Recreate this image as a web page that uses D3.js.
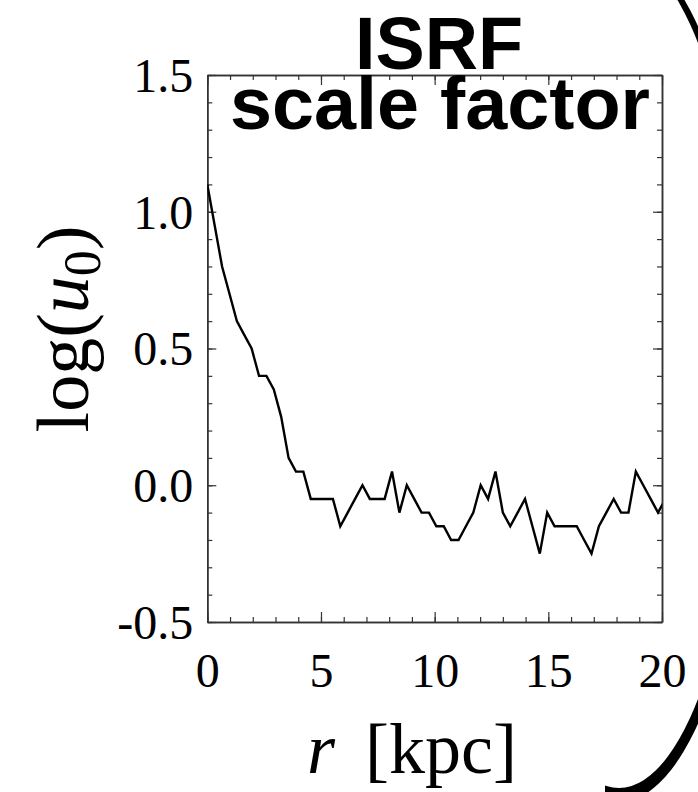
<!DOCTYPE html>
<html>
<head>
  <meta charset="UTF-8" />
  <script src="https://d3js.org/d3.v7.min.js"></script>
  <style>
    body { margin: 0; background: #fff; }
    svg { display: block; }
  </style>
</head>
<body>
  <script>
    // radius [kpc] and log(u0)
    var radius = [0, 0.325, 0.65, 0.975, 1.3, 1.625, 1.95, 2.275, 2.6, 2.925,
      3.25, 3.575, 3.9, 4.225, 4.55, 4.875, 5.2, 5.525, 5.85, 6.175,
      6.5, 6.825, 7.15, 7.475, 7.8, 8.125, 8.45, 8.775, 9.1, 9.425,
      9.75, 10.075, 10.4, 10.725, 11.05, 11.375, 11.7, 12.025, 12.35, 12.675,
      13.0, 13.325, 13.65, 13.975, 14.3, 14.625, 14.95, 15.275, 15.6, 15.925,
      16.25, 16.575, 16.9, 17.225, 17.55, 17.875, 18.2, 18.525, 18.85, 19.175,
      19.5, 19.825, 20.15];
    var logU0 = [1.10, 0.95, 0.80, 0.70, 0.60, 0.55, 0.50, 0.40, 0.40, 0.35,
      0.25, 0.10, 0.05, 0.05, -0.05, -0.05, -0.05, -0.05, -0.15, -0.10,
      -0.05, 0.00, -0.05, -0.05, -0.05, 0.05, -0.10, 0.00, -0.05, -0.10,
      -0.10, -0.15, -0.15, -0.20, -0.20, -0.15, -0.10, 0.00, -0.05, 0.05,
      -0.10, -0.15, -0.10, -0.05, -0.15, -0.25, -0.10, -0.15, -0.15, -0.15,
      -0.15, -0.20, -0.25, -0.15, -0.10, -0.05, -0.10, -0.10, 0.05, 0.00,
      -0.05, -0.10, -0.05];

    var xTicks = [0, 5, 10, 15, 20];
    var xTickLabels = ["0", "5", "10", "15", "20"];
    var yTicks = [-0.5, 0.0, 0.5, 1.0, 1.5];
    var yTickLabels = ["-0.5", "0.0", "0.5", "1.0", "1.5"];
    var xMinor = d3.range(0, 21, 1);
    var yMinor = d3.range(-5, 16, 1).map(function (d) { return d / 10; });

    var width = 698, height = 792;
    var plot = { left: 207.3, right: 662, top: 75, bottom: 622 };

    var svg = d3.select("body").append("svg")
      .attr("width", width)
      .attr("height", height);

    var x = d3.scaleLinear().domain([0, 20]).range([plot.left, plot.right]);
    var y = d3.scaleLinear().domain([-0.5, 1.5]).range([plot.bottom, plot.top]);

    var defs = svg.append("defs");
    defs.append("clipPath").attr("id", "plotclip")
      .append("rect")
      .attr("x", plot.left).attr("y", plot.top)
      .attr("width", plot.right - plot.left)
      .attr("height", plot.bottom - plot.top);
    defs.append("clipPath").attr("id", "arcclip")
      .append("rect")
      .attr("x", 605).attr("y", 0).attr("width", 200).attr("height", height);

    // big decorative ring on the right edge
    function ellipse(cx, cy, rx, ry) {
      return "M" + (cx - rx) + "," + cy +
        "A" + rx + "," + ry + " 0 1 0 " + (cx + rx) + "," + cy +
        "A" + rx + "," + ry + " 0 1 0 " + (cx - rx) + "," + cy + "Z";
    }
    svg.append("path")
      .attr("clip-path", "url(#arcclip)")
      .attr("fill", "#000")
      .attr("fill-rule", "evenodd")
      .attr("d", ellipse(619, 375, 137, 427) + ellipse(619, 371, 128, 417));

    // ****************** axes ***************************
    var axisColor = "#333";

    function styleAxis(g) {
      g.select(".domain").attr("stroke", axisColor).attr("stroke-width", 1.5);
      g.selectAll(".tick line").attr("stroke", axisColor).attr("stroke-width", 1.2);
    }

    // bottom
    svg.append("g")
      .attr("transform", "translate(0," + plot.bottom + ")")
      .call(d3.axisBottom(x).tickValues(xMinor).tickSizeInner(-5).tickSizeOuter(0).tickFormat(""))
      .call(styleAxis);
    var xAxis = svg.append("g")
      .attr("transform", "translate(0," + plot.bottom + ")")
      .call(d3.axisBottom(x).tickValues(xTicks).tickSizeInner(-10).tickSizeOuter(0)
        .tickFormat(function (d, i) { return xTickLabels[i]; }))
      .call(styleAxis);
    xAxis.selectAll("text")
      .attr("y", 65).attr("dy", null)
      .attr("fill", "#000")
      .style("font-family", "'Liberation Serif', 'Times New Roman', serif")
      .style("font-size", "48px");

    // top
    svg.append("g")
      .attr("transform", "translate(0," + plot.top + ")")
      .call(d3.axisTop(x).tickValues(xMinor).tickSizeInner(-5).tickSizeOuter(0).tickFormat(""))
      .call(styleAxis);
    svg.append("g")
      .attr("transform", "translate(0," + plot.top + ")")
      .call(d3.axisTop(x).tickValues(xTicks).tickSizeInner(-10).tickSizeOuter(0).tickFormat(""))
      .call(styleAxis);

    // left
    svg.append("g")
      .attr("transform", "translate(" + plot.left + ",0)")
      .call(d3.axisLeft(y).tickValues(yMinor).tickSizeInner(-5).tickSizeOuter(0).tickFormat(""))
      .call(styleAxis);
    var yAxis = svg.append("g")
      .attr("transform", "translate(" + plot.left + ",0)")
      .call(d3.axisLeft(y).tickValues(yTicks).tickSizeInner(-9).tickSizeOuter(0)
        .tickFormat(function (d, i) { return yTickLabels[i]; }))
      .call(styleAxis);
    yAxis.selectAll("text")
      .attr("x", -14).attr("dy", "0.34em")
      .attr("fill", "#000")
      .style("font-family", "'Liberation Serif', 'Times New Roman', serif")
      .style("font-size", "48px");

    // right
    svg.append("g")
      .attr("transform", "translate(" + plot.right + ",0)")
      .call(d3.axisRight(y).tickValues(yMinor).tickSizeInner(-5).tickSizeOuter(0).tickFormat(""))
      .call(styleAxis);
    svg.append("g")
      .attr("transform", "translate(" + plot.right + ",0)")
      .call(d3.axisRight(y).tickValues(yTicks).tickSizeInner(-9).tickSizeOuter(0).tickFormat(""))
      .call(styleAxis);

    // ****************** data line ***************************
    var line = d3.line()
      .x(function (d, i) { return x(radius[i]); })
      .y(function (d) { return y(d); });

    svg.append("path")
      .datum(logU0)
      .attr("clip-path", "url(#plotclip)")
      .attr("fill", "none")
      .attr("stroke", "#000")
      .attr("stroke-width", 2.4)
      .attr("stroke-linejoin", "miter")
      .attr("d", line);

    // ****************** titles ***************************
    svg.append("text")
      .attr("x", 439).attr("y", 69)
      .attr("text-anchor", "middle")
      .attr("textLength", 168)
      .attr("lengthAdjust", "spacingAndGlyphs")
      .style("font-family", "'Liberation Sans', Arial, sans-serif")
      .style("font-weight", "bold")
      .style("font-size", "74px")
      .text("ISRF");

    svg.append("text")
      .attr("x", 440).attr("y", 129)
      .attr("text-anchor", "middle")
      .attr("textLength", 420)
      .attr("lengthAdjust", "spacingAndGlyphs")
      .style("font-family", "'Liberation Sans', Arial, sans-serif")
      .style("font-weight", "bold")
      .style("font-size", "75px")
      .text("scale factor");

    // axis titles
    var xTitle = svg.append("text")
      .attr("x", 412).attr("y", 773)
      .attr("text-anchor", "middle")
      .style("font-family", "'Liberation Serif', 'Times New Roman', serif")
      .style("font-size", "72px");
    xTitle.append("tspan").style("font-style", "italic").text("r");
    xTitle.append("tspan").attr("dx", 30).text("[kpc]");

    var yTitle = svg.append("text")
      .attr("transform", "translate(88,329) rotate(-90)")
      .attr("text-anchor", "middle")
      .style("font-family", "'Liberation Serif', 'Times New Roman', serif")
      .style("font-size", "74px");
    yTitle.append("tspan").text("log(");
    yTitle.append("tspan").style("font-style", "italic").text("u");
    yTitle.append("tspan").attr("dy", 12).style("font-size", "52px").text("0");
    yTitle.append("tspan").attr("dy", -12).text(")");
  </script>
</body>
</html>
